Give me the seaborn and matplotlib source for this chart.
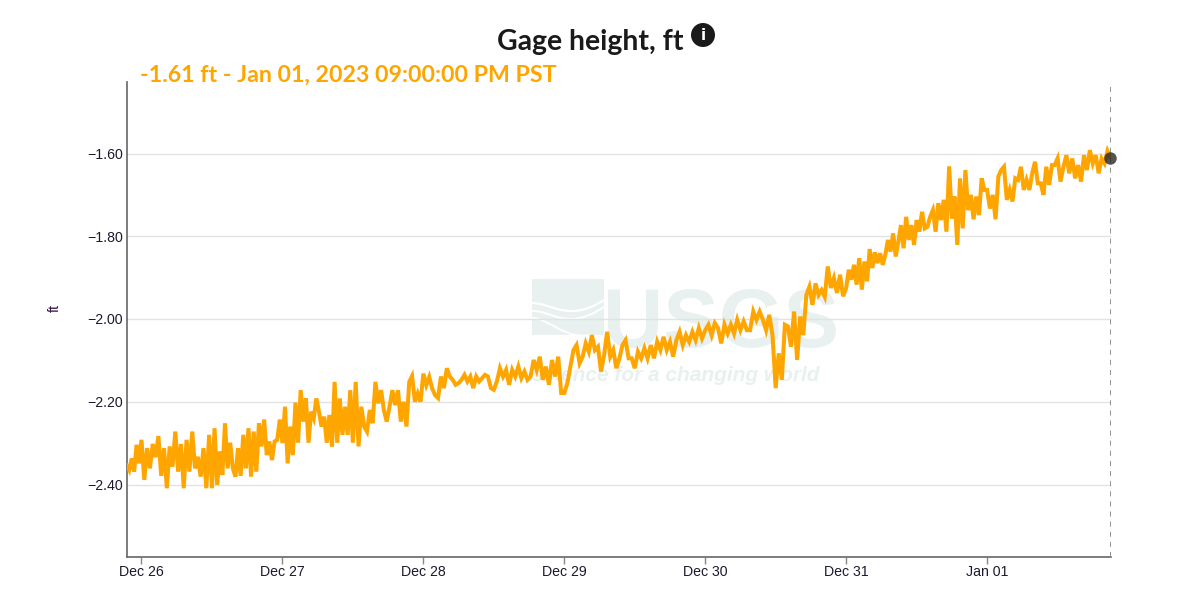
import numpy as np
import pandas as pd
import matplotlib
matplotlib.use("Agg")
import matplotlib.pyplot as plt
import matplotlib.dates as mdates
from matplotlib.patches import Circle, PathPatch, Rectangle
from matplotlib.path import Path
from matplotlib.transforms import IdentityTransform
import seaborn as sns

# Gage height readings (ft) in half-day blocks
seg_dec25_pm = [-2.353,-2.365,-2.337,-2.369,-2.304,-2.349]
seg_dec26_am = [-2.292,-2.389,-2.312,-2.361,-2.302,-2.334,-2.283,-2.379,-2.312,-2.409,-2.308,-2.357,-2.272,-2.369,-2.302,-2.409,-2.292,-2.369,-2.272,-2.361,-2.333,-2.381,-2.312,-2.409,-2.280]
seg_dec26_pm = [-2.409,-2.264,-2.401,-2.320,-2.377,-2.252,-2.361,-2.299,-2.361,-2.381,-2.312,-2.379,-2.280,-2.361,-2.264,-2.381,-2.272,-2.369,-2.252,-2.308,-2.243,-2.329,-2.296,-2.341,-2.296,-2.292,-2.243]
seg_dec27_am = [-2.300,-2.212,-2.349,-2.260,-2.329,-2.202,-2.299,-2.172,-2.248,-2.192,-2.299,-2.224,-2.240,-2.192,-2.224,-2.260,-2.236,-2.299,-2.232,-2.308,-2.152,-2.299,-2.192,-2.280,-2.212,-2.280,-2.172]
seg_dec27_pm = [-2.299,-2.152,-2.308,-2.212,-2.260,-2.272,-2.220,-2.252,-2.152,-2.204,-2.172,-2.220,-2.248,-2.212,-2.172,-2.208,-2.172,-2.248,-2.200,-2.260,-2.152,-2.138,-2.200,-2.180,-2.200]
seg_dec28_am = [-2.132,-2.160,-2.140,-2.168,-2.184,-2.191,-2.139,-2.167,-2.119,-2.139,-2.147,-2.159,-2.155,-2.147,-2.135,-2.151,-2.139,-2.167,-2.139,-2.151,-2.143,-2.135,-2.139,-2.167]
seg_dec28_pm = [-2.171,-2.151,-2.119,-2.139,-2.123,-2.159,-2.123,-2.139,-2.115,-2.143,-2.127,-2.147,-2.139,-2.099,-2.123,-2.091,-2.147,-2.115,-2.159,-2.099,-2.139,-2.091,-2.179]
seg_dec29_am = [-2.179,-2.155,-2.115,-2.075,-2.063,-2.107,-2.091,-2.059,-2.079,-2.039,-2.075,-2.067,-2.127,-2.087,-2.031,-2.091,-2.075,-2.119,-2.095,-2.063,-2.051,-2.095,-2.095]
seg_dec29_pm = [-2.119,-2.079,-2.095,-2.071,-2.095,-2.063,-2.095,-2.055,-2.075,-2.043,-2.075,-2.055,-2.091,-2.051,-2.031,-2.063,-2.039,-2.055,-2.031,-2.051,-2.022,-2.047]
seg_dec30_am = [-2.027,-2.014,-2.039,-2.010,-2.022,-2.059,-2.014,-2.035,-2.014,-2.035,-2.002,-2.027,-2.006,-2.027,-2.027,-1.982,-2.002,-1.982,-2.002,-2.027,-1.990,-2.039]
seg_dec30_pm = [-2.167,-2.083,-2.147,-2.014,-2.018,-2.067,-1.982,-2.099,-1.994,-2.039,-1.942,-1.922,-1.966,-1.914,-1.942,-1.930,-1.946,-1.873,-1.925,-1.901,-1.937,-1.893,-1.945]
seg_dec31_am = [-1.925,-1.881,-1.905,-1.869,-1.917,-1.853,-1.929,-1.861,-1.909,-1.831,-1.877,-1.839,-1.865,-1.841,-1.869,-1.845,-1.809,-1.837,-1.793,-1.849,-1.813,-1.773,-1.829,-1.753,-1.809,-1.773,-1.821]
seg_dec31_pm = [-1.761,-1.789,-1.741,-1.781,-1.777,-1.753,-1.737,-1.789,-1.720,-1.761,-1.712,-1.789,-1.631,-1.757,-1.704,-1.821,-1.660,-1.781,-1.640,-1.737,-1.700,-1.759,-1.704,-1.749,-1.660,-1.688]
seg_jan01_am = [-1.688,-1.733,-1.700,-1.759,-1.656,-1.640,-1.632,-1.712,-1.688,-1.716,-1.660,-1.664,-1.632,-1.688,-1.664,-1.688,-1.648,-1.620,-1.672,-1.672,-1.700,-1.632,-1.676,-1.628,-1.628]
seg_jan01_pm = [-1.612,-1.668,-1.632,-1.604,-1.648,-1.612,-1.660,-1.628,-1.668,-1.604,-1.640,-1.592,-1.624,-1.604,-1.648,-1.612,-1.624,-1.594,-1.610]

segments = [seg_dec25_pm, seg_dec26_am, seg_dec26_pm, seg_dec27_am, seg_dec27_pm,
            seg_dec28_am, seg_dec28_pm, seg_dec29_am, seg_dec29_pm, seg_dec30_am,
            seg_dec30_pm, seg_dec31_am, seg_dec31_pm, seg_jan01_am, seg_jan01_pm]
# hours after Dec 26 00:00 at which each block starts (last entry: final reading)
seg_hours = [-2.5, 0, 12, 24, 36, 48, 60, 72, 84, 96, 108, 120, 132, 144, 156, 165]

day_ticks = ["2022-12-26", "2022-12-27", "2022-12-28", "2022-12-29", "2022-12-30", "2022-12-31", "2023-01-01"]
title_text = "Gage height, ft"
readout_text = "-1.61 ft - Jan 01, 2023 09:00:00 PM PST"
y_ticks = [-1.6, -1.8, -2.0, -2.2, -2.4]

hours, heights = [], []
for i, seg in enumerate(segments):
    last = i == len(segments) - 1
    hours.extend(np.linspace(seg_hours[i], seg_hours[i + 1], len(seg), endpoint=last))
    heights.extend(seg)
origin = pd.Timestamp("2022-12-26")
df = pd.DataFrame({"time": origin + pd.to_timedelta(hours, unit="h"), "height": heights})

sns.set_theme(style="white")
plt.rcParams["font.family"] = ["Liberation Sans", "DejaVu Sans"]

W, H = 1203, 593
fig = plt.figure(figsize=(W / 100, H / 100), dpi=100, facecolor="white")
ax = fig.add_axes([126.5 / W, 1 - 557 / H, (1111 - 126.5) / W, (557 - 82) / H])
ax.patch.set_visible(False)

# Watermark (pixel-space decoration behind the axes)
wm = "#e8f1ef"
idt = IdentityTransform()
fig.add_artist(Rectangle((532, H - 335), 72, 56, transform=idt, fc=wm, ec="none", zorder=-3))
for (x0, y0, x1, y1, x2, y2, x3, y3, w) in [
    (532, 303, 552, 303, 568, 323, 604, 300, 1.6),
    (532, 311, 552, 310, 566, 332, 604, 307, 1.4),
    (532, 318, 548, 318, 566, 340, 590, 335, 1.4),
]:
    p = Path([(x0, H - y0), (x1, H - y1), (x2, H - y2), (x3, H - y3)],
             [Path.MOVETO, Path.CURVE4, Path.CURVE4, Path.CURVE4])
    fig.add_artist(PathPatch(p, transform=idt, fc="none", ec="white", lw=w, zorder=-2))
narrow = ["Liberation Sans Narrow", "Liberation Sans"]
fig.text(721 / W, 1 - 347 / H, "USGS", family=narrow, weight="bold", fontsize=60,
         color=wm, ha="center", va="baseline", zorder=-3)
fig.text(676 / W, 1 - 381 / H, "science for a changing world", family=narrow, weight="bold",
         style="italic", fontsize=15, color=wm, ha="center", va="baseline", zorder=-3)

sns.lineplot(data=df, x="time", y="height", ax=ax, color="#FFA500", lw=2.9, zorder=3,
             errorbar=None, estimator=None, solid_joinstyle="miter")

ax.set_ylim(-1.6 - (557 - 153.5) / 413.75, -1.6 + (153.5 - 82) / 413.75)
ax.set_xlim(origin - pd.Timedelta(hours=2.55), origin + pd.Timedelta(hours=165.1))
ax.set_yticks(y_ticks)
ax.set_yticklabels([f"\u2212{abs(v):.2f}" for v in y_ticks])
ax.set_xticks([pd.Timestamp(d) for d in day_ticks])
ax.xaxis.set_major_formatter(mdates.DateFormatter("%b %d"))
ax.grid(axis="y", color="#e2e2e2", lw=1.0, zorder=0)
ax.grid(axis="x", visible=False)
ax.tick_params(axis="x", length=5, width=1.0, color="#888888", labelsize=10.2, labelcolor="#1a1a2e", pad=1, bottom=True)
ax.tick_params(axis="y", length=0, labelsize=10.2, labelcolor="#1a1a2e", pad=2.5)
ax.set_xlabel("")
ax.set_ylabel("")
for s in ["top", "right"]:
    ax.spines[s].set_visible(False)
for s in ["left", "bottom"]:
    ax.spines[s].set_color("#666666")
    ax.spines[s].set_linewidth(1.2)
fig.text(55 / W, 1 - 308 / H, "ft", rotation=90, ha="center", va="center", fontsize=10.2, color="#301040")

# Cursor at the latest reading
t_last, v_last = df["time"].iloc[-1], df["height"].iloc[-1]
ax.plot([t_last + pd.Timedelta(hours=0.08)] * 2, [ax.get_ylim()[0], -1.6 + (153.5 - 87) / 413.75],
        color="#8a8a8a", lw=1.3, dashes=(2.8, 2.8), zorder=4)
ax.plot([t_last], [v_last], "o", ms=9, color="#222222", alpha=0.78, mec="none", zorder=5, clip_on=False)

# Title, info icon and readout
fig.text(590 / W, 1 - 50 / H, title_text, family="Lato", weight="bold", fontsize=20.4,
         color="#1a1a1a", ha="center", va="baseline")
fig.add_artist(Circle((703, H - 35), 12, transform=idt, fc="#1a1a1a", ec="none"))
fig.text(703 / W, 1 - 35 / H, "i", family="DejaVu Sans", weight="bold", fontsize=11,
         color="white", ha="center", va="center")
fig.text(140 / W, 1 - 82 / H, readout_text, family="Lato", weight="bold", fontsize=16.7,
         color="#FFA500", ha="left", va="baseline")

fig.savefig("out.png", dpi=100)
